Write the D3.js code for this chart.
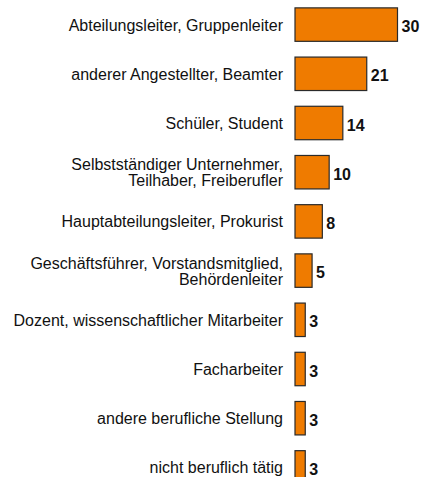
<!DOCTYPE html>
<html>
<head>
  <meta charset="utf-8">
  <script src="https://cdn.jsdelivr.net/npm/d3@7"></script>
  <style>
    body { margin: 0; background: #fff; }
    .label { font-family: "Liberation Sans", Arial, sans-serif; font-size: 16px; fill: #111; }
    .value { font-family: "Liberation Sans", Arial, sans-serif; font-size: 16px; font-weight: bold; fill: #111; }
  </style>
</head>
<body>
<svg id="chart" width="421" height="477"></svg>
<script>
  // categories (multi-line labels split by '\n') and values
  var categories = [
    'Abteilungsleiter, Gruppenleiter',
    'anderer Angestellter, Beamter',
    'Schüler, Student',
    'Selbstständiger Unternehmer,\nTeilhaber, Freiberufler',
    'Hauptabteilungsleiter, Prokurist',
    'Geschäftsführer, Vorstandsmitglied,\nBehördenleiter',
    'Dozent, wissenschaftlicher Mitarbeiter',
    'Facharbeiter',
    'andere berufliche Stellung',
    'nicht beruflich tätig'
  ];
  var values = [30, 21, 14, 10, 8, 5, 3, 3, 3, 3];

  var svg = d3.select('#chart');

  var x = d3.scaleLinear()
    .domain([0, 30])
    .range([295, 397.5]);

  var y = d3.scaleBand()
    .domain(categories)
    .range([0, 492])
    .paddingInner(0.32)
    .paddingOuter(0.16);

  var rows = svg.selectAll('.row')
    .data(categories)
    .enter()
    .append('g')
    .attr('class', 'row');

  rows.append('rect')
    .attr('x', x(0))
    .attr('y', d => y(d))
    .attr('width', (d, i) => x(values[i]) - x(0))
    .attr('height', y.bandwidth())
    .attr('fill', '#ef7b00')
    .attr('stroke', '#2a2a2a')
    .attr('stroke-width', 1.2);

  rows.append('text')
    .attr('class', 'value')
    .attr('x', (d, i) => x(values[i]) + 4)
    .attr('y', d => y(d) + y.bandwidth() / 2 + 7.5)
    .text((d, i) => values[i]);

  // category labels, right aligned, possibly two lines
  rows.each(function (d) {
    var lines = d.split('\n');
    var cy = y(d) + y.bandwidth() / 2;
    var t = d3.select(this).append('text')
      .attr('class', 'label')
      .attr('text-anchor', 'end');
    lines.forEach((line, j) => {
      t.append('tspan')
        .attr('x', 283)
        .attr('y', cy + 6 + (j - (lines.length - 1) / 2) * 16)
        .text(line);
    });
  });
</script>
</body>
</html>
